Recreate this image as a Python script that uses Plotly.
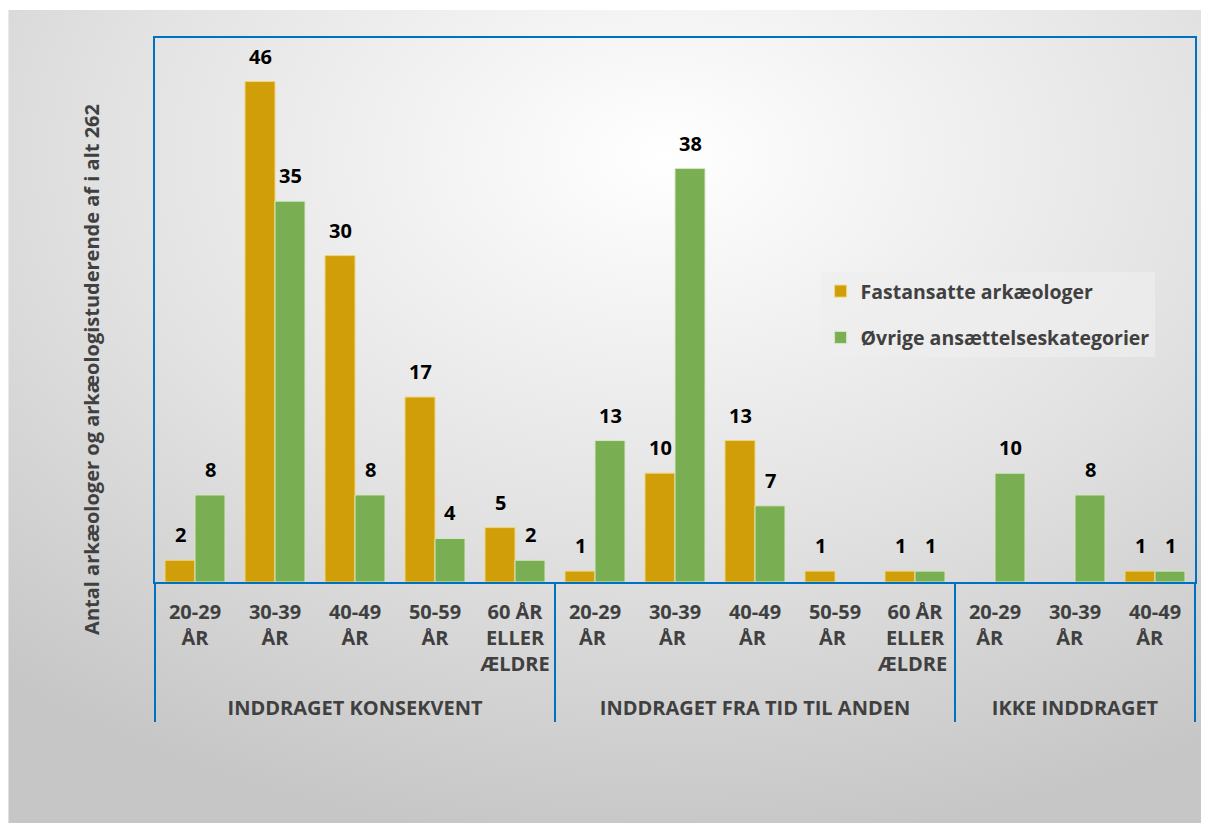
import base64
import plotly.graph_objects as go

# data
groups = ["INDDRAGET KONSEKVENT"] * 5 + ["INDDRAGET FRA TID TIL ANDEN"] * 5 + ["IKKE INDDRAGET"] * 3
ages = ["20-29<br>ÅR", "30-39<br>ÅR", "40-49<br>ÅR", "50-59<br>ÅR", "60 ÅR<br>ELLER<br>ÆLDRE",
        "20-29<br>ÅR ", "30-39<br>ÅR ", "40-49<br>ÅR ", "50-59<br>ÅR ", "60 ÅR<br>ELLER<br>ÆLDRE ",
        "20-29<br>ÅR  ", "30-39<br>ÅR  ", "40-49<br>ÅR  "]
fastansatte = [2, 46, 30, 17, 5, 1, 10, 13, 1, 1, None, None, 1]
oevrige = [8, 35, 8, 4, 2, 13, 38, 7, None, 1, 10, 8, 1]

ytitle = "Antal arkæologer og arkæologistuderende af i alt 262"
FONT = "Open Sans"
BLUE = "#0070C0"
GREY = "#404040"

# an extra empty line under the tallest labels pushes the group row down
ages_disp = [a + "<br> " if "ÆLDRE" in a else a for a in ages]

fig = go.Figure()
fig.add_trace(go.Bar(
    x=[groups, ages_disp], y=fastansatte, name="Fastansatte arkæologer",
    marker=dict(color="#D09E08", line=dict(color="#F3D57A", width=1)),
    legendgroup="a",
))
fig.add_trace(go.Bar(
    x=[groups, ages_disp], y=oevrige, name="Øvrige ansættelseskategorier",
    marker=dict(color="#7AAE52", line=dict(color="#D4E8C6", width=1)),
    legendgroup="b",
))

# value labels, lifted a bit above each bar
for vals, dx in [(fastansatte, -15), (oevrige, 15)]:
    for i, v in enumerate(vals):
        if v:
            fig.add_annotation(x=i, y=v, xref="x", yref="y", text=str(v), showarrow=False,
                               xshift=dx, yshift=10, yanchor="bottom",
                               font=dict(family=FONT, size=20, color="black", weight="bold"))

# soft grey radial gradient behind the chart
svg = ('<svg xmlns="http://www.w3.org/2000/svg" width="1197" height="813" preserveAspectRatio="none">'
       '<defs><radialGradient id="g" cx="55%" cy="18%" r="85%" fx="55%" fy="18%">'
       '<stop offset="0%" stop-color="#FFFFFF"/><stop offset="55%" stop-color="#E2E2E2"/>'
       '<stop offset="100%" stop-color="#C6C6C6"/>'
       '</radialGradient></defs><rect width="1197" height="813" fill="url(#g)"/></svg>')
bg = "data:image/svg+xml;base64," + base64.b64encode(svg.encode()).decode()

fig.update_layout(
    width=1197, height=815,
    margin=dict(l=147, r=8, t=30, b=241),
    paper_bgcolor="white", plot_bgcolor="rgba(0,0,0,0)",
    font=dict(family=FONT, color=GREY),
    barmode="group", bargap=0.25, bargroupgap=0,
    showlegend=True,
    legend=dict(x=0.64, y=0.57, xanchor="left", yanchor="top",
                bgcolor="rgba(238,238,238,0.7)", tracegroupgap=18,
                font=dict(family=FONT, size=19.5, color=GREY, weight="bold")),
    images=[dict(source=bg, xref="paper", yref="paper", x=-0.1411, y=1.0515,
                 sizex=1.1488, sizey=1.4945, sizing="stretch", layer="below",
                 xanchor="left", yanchor="top")],
)
fig.update_xaxes(
    type="multicategory", showline=True, linecolor=BLUE, linewidth=2, mirror=True,
    showdividers=True, dividercolor=BLUE, dividerwidth=2, showgrid=False,
    ticks="", ticklabelstandoff=11, tickangle=0,
    tickfont=dict(family=FONT, size=20, color=GREY, weight="bold"),
)
fig.update_yaxes(
    range=[0, 50], showline=True, linecolor=BLUE, linewidth=2, mirror=True,
    showticklabels=False, showgrid=False, zeroline=False, ticks="",
)
fig.add_annotation(
    text=ytitle, xref="paper", yref="paper", x=-0.0605, y=0.39, textangle=-90,
    xanchor="center", yanchor="middle",
    showarrow=False, font=dict(family=FONT, size=20, color=GREY, weight="bold"),
)

fig.write_html("out.html")
